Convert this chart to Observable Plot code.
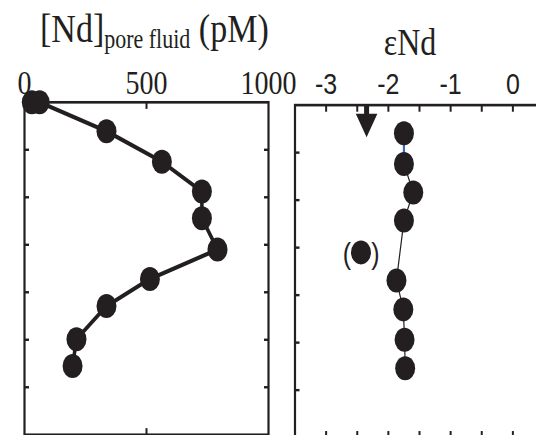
<!DOCTYPE html>
<html><head><meta charset="utf-8">
<script src="https://cdn.jsdelivr.net/npm/d3@7"></script>
<script src="https://cdn.jsdelivr.net/npm/@observablehq/plot@0.6"></script>
<style>
html,body{margin:0;padding:0;background:#fff;overflow:hidden;width:536px;height:435px;}
#wrap{position:absolute;left:0;top:0;width:536px;height:363px;transform:scaleY(1.2);transform-origin:0 0;}
.ttl{position:absolute;white-space:nowrap;font-family:"Liberation Serif","Times New Roman",serif;color:#231f20;line-height:1;}
#left,#right{position:absolute;top:0;}
#left{left:0px}
#right{left:280px}
</style></head><body>
<div id="wrap">
<div class="ttl" style="left:40px;top:6.5px;font-size:34px">[Nd]<span style="font-size:22px;position:relative;top:5.6px">pore fluid</span> (pM)</div>
<div class="ttl" style="left:360px;width:100px;text-align:center;top:19px;font-size:32px">εNd</div>
<div id="left"></div><div id="right"></div>
</div>
<script>
// Left panel: pore-fluid Nd concentration (pM) vs depth (tick units)
const depthNd = [0, 0, 0.61, 1.25, 1.88, 2.44, 3.10, 3.72, 4.29, 4.99, 5.55];
const ndPM = [30, 62, 336, 563, 727, 727, 791, 514, 336, 213, 197];
// Right panel: epsilon Nd vs depth
const depthEps = [0.59, 1.24, 1.84, 2.43, 3.69, 4.30, 4.94, 5.54];
const epsNd = [-1.75, -1.75, -1.60, -1.75, -1.87, -1.76, -1.74, -1.73];
const outlierDepth = [3.10];
const outlierEps = [-2.44];
const arrowEps = [-2.35];
// Ticks
const ndTickLabels = [0, 500, 1000];
const ndTickMarks = [500];
const epsTickLabels = [-3, -2, -1, 0];
const epsTickMarks = [-3, -2.5, -2, -1.5, -1, -0.5, 0];
const depthTicks = [1, 2, 3, 4, 5, 6];

const ink = "#231f20";
const serif = "Liberation Serif, Times New Roman, serif";
const sans = "Liberation Sans, Arial, sans-serif";
const svgStyle = "overflow: visible; background: transparent; max-width: none; color: #231f20;";
const noText = () => "";
const plain = d => String(d);

const leftData = ndPM.map((v, i) => ({nd: v, depth: depthNd[i]}));
const rightData = epsNd.map((v, i) => ({eps: v, depth: depthEps[i]}));
const outlier = outlierEps.map((v, i) => ({eps: v, depth: outlierDepth[i]}));

const tickOpts = {tickSize: -5, strokeWidth: 2, tickFormat: noText, label: null};

const left = Plot.plot({
  width: 290, height: 363,
  marginLeft: 24, marginRight: 22, marginTop: 84.75, marginBottom: 1.2,
  style: svgStyle,
  x: {domain: [0, 1000]},
  y: {domain: [0, 7], reverse: true},
  marks: [
    Plot.axisX(ndTickLabels, {anchor: "top", tickSize: 0, tickPadding: 7.25, fontSize: 28, fontFamily: serif, tickFormat: plain, label: null}),
    Plot.axisX(ndTickMarks, {anchor: "top", ...tickOpts}),
    Plot.axisX(ndTickMarks, {anchor: "bottom", ...tickOpts}),
    Plot.axisY(depthTicks, {anchor: "left", ...tickOpts}),
    Plot.axisY(depthTicks, {anchor: "right", ...tickOpts}),
    Plot.frame({stroke: ink, strokeWidth: 2.2}),
    Plot.line(leftData, {x: "nd", y: "depth", stroke: ink, strokeWidth: 3.5, strokeLinejoin: "round"}),
    Plot.dot(leftData, {x: "nd", y: "depth", r: 10, fill: ink, stroke: "none"})
  ]
});
document.getElementById("left").appendChild(left);

const arrowShape = {
  draw(context, l) {
    const w = 2.5, hw = 10.8, hs = 7.1;
    context.moveTo(-w, 0);
    context.lineTo(w, 0);
    context.lineTo(w, -hs);
    context.lineTo(hw, -hs);
    context.lineTo(0, -l);
    context.lineTo(-hw, -hs);
    context.lineTo(-w, -hs);
    context.closePath();
  }
};

const right = Plot.plot({
  width: 270, height: 366,
  marginLeft: 14.5, marginRight: 6.5, marginTop: 87.1, marginBottom: 1.8,
  style: svgStyle,
  x: {domain: [-3.5, 0.5]},
  y: {domain: [0, 7], reverse: true},
  marks: [
    Plot.axisX(epsTickLabels, {anchor: "top", tickSize: 0, tickPadding: 9.3, fontSize: 25, fontFamily: sans, tickFormat: plain, label: null}),
    Plot.axisX(epsTickMarks, {anchor: "top", ...tickOpts}),
    Plot.axisX(epsTickMarks, {anchor: "bottom", ...tickOpts}),
    Plot.axisY(depthTicks, {anchor: "left", ...tickOpts}),
    Plot.frame({stroke: ink, strokeWidth: 2.2}),
    Plot.vector(arrowEps, {x: d => d, y: () => 0, rotate: 180, length: 26.8, anchor: "start", shape: arrowShape, fill: ink, stroke: "none"}),
    Plot.line(rightData, {x: "eps", y: "depth", stroke: ink, strokeWidth: 1.2}),
    Plot.line(rightData.slice(0, 2), {x: "eps", y: "depth", stroke: "#3d6cb5", strokeWidth: 2.2}),
    Plot.dot(rightData, {x: "eps", y: "depth", r: 10, fill: ink, stroke: "none"}),
    Plot.dot(outlier, {x: "eps", y: "depth", r: 10, fill: ink, stroke: "none"}),
    Plot.text(outlier, {x: "eps", y: "depth", text: () => "(", dx: -14, dy: 1.5, fontSize: 25, fontFamily: sans, fill: ink}),
    Plot.text(outlier, {x: "eps", y: "depth", text: () => ")", dx: 14.5, dy: 1.5, fontSize: 25, fontFamily: sans, fill: ink})
  ]
});
document.getElementById("right").appendChild(right);
</script>
</body></html>
